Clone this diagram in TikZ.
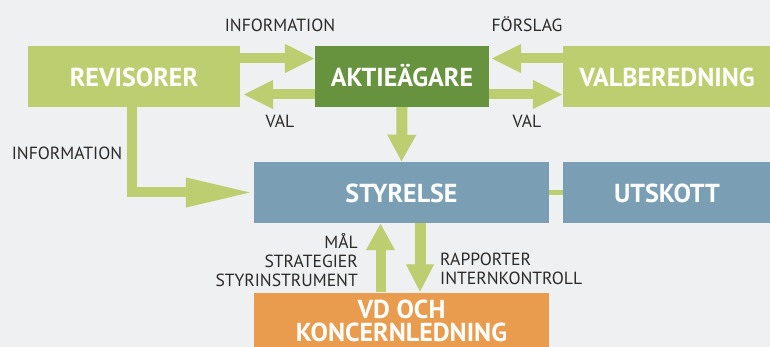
\documentclass[tikz,border=0pt]{standalone}
\usepackage{fontspec}
\setmainfont{PT Sans}
\usetikzlibrary{arrows.meta}
\definecolor{bgc}{HTML}{EFF0F2}
\definecolor{lgreen}{HTML}{BDCE71}
\definecolor{dgreen}{HTML}{67933F}
\definecolor{bluec}{HTML}{7A9FB5}
\definecolor{orangec}{HTML}{E99B4E}
\definecolor{txt}{HTML}{2B2A29}
\begin{document}
\begin{tikzpicture}[x=1pt,y=-1pt,
  box/.style={rectangle, inner sep=0pt, minimum height=61pt, text=white,
    font=\bfseries\fontsize{26}{23}\selectfont},
  capt/.style={text height=21pt, text depth=0pt},
  lbl/.style={text=txt, font=\fontsize{17.6}{19}\selectfont, inner sep=0pt},
  fat/.style={draw=lgreen, line width=10pt, line cap=butt,
    -{Triangle[length=30pt,width=27pt]}},
]
\fill[bgc] (0,0) rectangle (770,347);
\useasboundingbox (0,0) rectangle (770,347);

\node[box, capt, fill=lgreen, minimum width=212pt] (rev) at (134,76.5) {REVISORER};
\node[box, capt, fill=dgreen, minimum width=174pt] (akt) at (402,76.5) {AKTIEÄGARE};
\node[box, capt, fill=lgreen, minimum width=208pt] (valb) at (667,76.5) {VALBEREDNING};
\node[box, capt, fill=bluec, minimum width=295pt] (sty) at (401.5,192.5) {STYRELSE};
\node[box, capt, fill=bluec, minimum width=208pt] (uts) at (667,192.5) {UTSKOTT};
\node[box, fill=orangec, minimum width=295pt, minimum height=56pt, align=center] (vd) at (401.5,320.5) {VD OCH\\KONCERNLEDNING};

\draw[fat] ([yshift=18pt]rev.east) -- ([yshift=18pt]akt.west);
\draw[fat, shorten >=3pt] ([yshift=-18pt]akt.west) -- ([yshift=-18pt]rev.east);
\draw[fat, shorten >=2pt] ([yshift=18pt]valb.west) -- ([yshift=18pt]akt.east);
\draw[fat] ([yshift=-18pt]akt.east) -- ([yshift=-18pt]valb.west);
\draw[fat, line width=11pt, -{Triangle[length=27pt,width=27pt]}] (akt.south) -- (sty.north);
\draw[fat, -{Triangle[length=27pt,width=27pt]}] ([xshift=-21pt]vd.north) -- ([xshift=-21pt]sty.south);
\draw[fat, line width=11pt, -{Triangle[length=28pt,width=26pt]}] ([xshift=18.5pt]sty.south) -- ([xshift=18.5pt]vd.north);
\draw[fat, line join=miter, -{Triangle[length=68pt,width=27pt]}] ([xshift=-2pt]rev.south) |- (sty.west);
\draw[draw=lgreen, line width=5pt] (sty.east) -- (uts.west);

\node[lbl, anchor=base] (l1) at (280,32) {INFORMATION};
\node[lbl, anchor=base] (l2) at (280,128) {VAL};
\node[lbl, anchor=base] (l3) at (527,32) {FÖRSLAG};
\node[lbl, anchor=base] (l4) at (527,128) {VAL};
\node[lbl, anchor=base] (l5) at (67,160) {INFORMATION};
\node[lbl, anchor=base east, align=right] (l6) at (358,286) {MÅL\\STRATEGIER\\STYRINSTRUMENT};
\node[lbl, anchor=base west, align=left] (l7) at (440,284) {RAPPORTER\\INTERNKONTROLL};
\end{tikzpicture}
\end{document}
